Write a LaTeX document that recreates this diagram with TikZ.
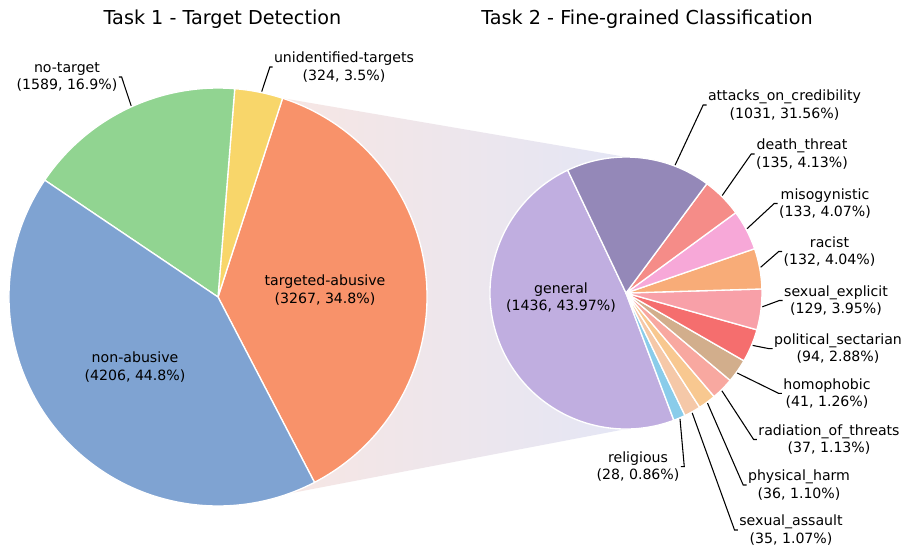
\documentclass[tikz,border=0pt]{standalone}
\usepackage{fontspec}
\setmainfont{DejaVu Sans}

\definecolor{cNonAbusive}{RGB}{127,163,210}
\definecolor{cNoTarget}{RGB}{145,212,145}
\definecolor{cUnident}{RGB}{248,214,106}
\definecolor{cTargeted}{RGB}{248,146,106}
\definecolor{cGeneral}{RGB}{192,174,224}
\definecolor{cAttacks}{RGB}{148,136,184}
\definecolor{cDeath}{RGB}{245,140,136}
\definecolor{cMisog}{RGB}{247,168,216}
\definecolor{cRacist}{RGB}{248,172,120}
\definecolor{cSexExpl}{RGB}{248,160,168}
\definecolor{cPolitical}{RGB}{245,110,110}
\definecolor{cHomophobic}{RGB}{210,174,140}
\definecolor{cRadiation}{RGB}{248,168,160}
\definecolor{cPhysical}{RGB}{248,200,144}
\definecolor{cSexAssault}{RGB}{245,200,168}
\definecolor{cReligious}{RGB}{138,204,234}
\definecolor{cBandL}{RGB}{250,230,224}
\definecolor{cBandR}{RGB}{228,230,245}

\tikzset{every picture/.style={line width=0.75pt}}
\tikzset{
  sector/.style={draw=white, line width=1pt, line join=round},
  leader/.style={draw=black, line width=0.8pt},
  lbl/.style={align=center, inner sep=0.75pt, font=\fontsize{10.6}{13}\selectfont},
  ttl/.style={inner sep=0.75pt, font=\fontsize{14.4}{17}\selectfont}
}

\begin{document}
\begin{tikzpicture}[x=0.75pt,y=0.75pt,yscale=-1,xscale=1]
\useasboundingbox (0,0) rectangle (904,547);
\fill[white] (0,0) rectangle (904,547);

%Shape: Band between the two pies
\shade[left color=cBandL, right color=cBandR] (282.6,98.2) -- (626,157) -- (626,429) -- (289.5,493.4) -- (218,297) -- cycle ;

%Shape: Sector targeted-abusive
\filldraw[sector, fill=cTargeted] (218,297) -- ++(62.5:209) arc (62.5:-72:209) -- cycle ;
%Shape: Sector unidentified-targets
\filldraw[sector, fill=cUnident] (218,297) -- ++(-72:209) arc (-72:-85.4:209) -- cycle ;
%Shape: Sector no-target
\filldraw[sector, fill=cNoTarget] (218,297) -- ++(-85.4:209) arc (-85.4:-146:209) -- cycle ;
%Shape: Sector non-abusive
\filldraw[sector, fill=cNonAbusive] (218,297) -- ++(-146:209) arc (-146:-297.5:209) -- cycle ;

%Shape: Sector general
\filldraw[sector, fill=cGeneral] (626,293) -- ++(-115.4:136) arc (-115.4:-290.6:136) -- cycle ;
%Shape: Sector religious
\filldraw[sector, fill=cReligious] (626,293) -- ++(69.4:136) arc (69.4:64.3:136) -- cycle ;
%Shape: Sector sexual_assault
\filldraw[sector, fill=cSexAssault] (626,293) -- ++(64.3:136) arc (64.3:57.2:136) -- cycle ;
%Shape: Sector physical_harm
\filldraw[sector, fill=cPhysical] (626,293) -- ++(57.2:136) arc (57.2:49.6:136) -- cycle ;
%Shape: Sector radiation_of_threats
\filldraw[sector, fill=cRadiation] (626,293) -- ++(49.6:136) arc (49.6:40:136) -- cycle ;
%Shape: Sector homophobic
\filldraw[sector, fill=cHomophobic] (626,293) -- ++(40:136) arc (40:29.9:136) -- cycle ;
%Shape: Sector political_sectarian
\filldraw[sector, fill=cPolitical] (626,293) -- ++(29.9:136) arc (29.9:15.7:136) -- cycle ;
%Shape: Sector sexual_explicit
\filldraw[sector, fill=cSexExpl] (626,293) -- ++(15.7:136) arc (15.7:-1.7:136) -- cycle ;
%Shape: Sector racist
\filldraw[sector, fill=cRacist] (626,293) -- ++(-1.7:136) arc (-1.7:-19:136) -- cycle ;
%Shape: Sector misogynistic
\filldraw[sector, fill=cMisog] (626,293) -- ++(-19:136) arc (-19:-36.2:136) -- cycle ;
%Shape: Sector death_threat
\filldraw[sector, fill=cDeath] (626,293) -- ++(-36.2:136) arc (-36.2:-53.5:136) -- cycle ;
%Shape: Sector attacks_on_credibility
\filldraw[sector, fill=cAttacks] (626,293) -- ++(-53.5:136) arc (-53.5:-115.4:136) -- cycle ;

% Leader start points on the rims
\coordinate (eNoTarget) at (131.2,105.8) ;
\coordinate (eUnident) at (261.7,91.6) ;
\coordinate (eAttacks) at (675.1,165.1) ;
\coordinate (eDeath) at (722.2,195.5) ;
\coordinate (eMisog) at (747,228.7) ;
\coordinate (eRacist) at (760.6,267.3) ;
\coordinate (eSexExpl) at (762.3,306.8) ;
\coordinate (ePolitical) at (752.6,345.4) ;
\coordinate (eHomophobic) at (737.2,373) ;
\coordinate (eRadiation) at (721.9,390.8) ;
\coordinate (ePhysical) at (707.5,403.1) ;
\coordinate (eSexAssault) at (692.2,412.9) ;
\coordinate (eReligious) at (680,418.9) ;

% Title Nodes
\node[ttl] (tTask1) at (222.5,19) {Task 1 - Target Detection};
\node[ttl] (tTask2) at (647,19) {Task 2 - Fine-grained Classification};

% Text Node
\node[lbl] (lNoTarget) at (67,77) {no-target\\(1589, 16.9\%)};
% Text Node
\node[lbl] (lUnident) at (344,67) {unidentified-targets\\(324, 3.5\%)};
% Text Node
\node[lbl] (lTargeted) at (325,290) {targeted-abusive\\(3267, 34.8\%)};
% Text Node
\node[lbl] (lNonAbusive) at (135,367) {non-abusive\\(4206, 44.8\%)};
% Text Node
\node[lbl] (lGeneral) at (561,297.5) {general\\(1436, 43.97\%)};
% Text Node
\node[lbl] (lAttacks) at (784.5,105) {attacks\_on\_credibility\\(1031, 31.56\%)};
% Text Node
\node[lbl] (lDeath) at (802,154) {death\_threat\\(135, 4.13\%)};
% Text Node
\node[lbl] (lMisog) at (825,203.5) {misogynistic\\(133, 4.07\%)};
% Text Node
\node[lbl] (lRacist) at (829.5,251.5) {racist\\(132, 4.04\%)};
% Text Node
\node[lbl] (lSexExpl) at (836,300.5) {sexual\_explicit\\(129, 3.95\%)};
% Text Node
\node[lbl] (lPolitical) at (838,348.7) {political\_sectarian\\(94, 2.88\%)};
% Text Node
\node[lbl] (lHomophobic) at (827,393.3) {homophobic\\(41, 1.26\%)};
% Text Node
\node[lbl] (lRadiation) at (829,439.5) {radiation\_of\_threats\\(37, 1.13\%)};
% Text Node
\node[lbl] (lPhysical) at (799,485) {physical\_harm\\(36, 1.10\%)};
% Text Node
\node[lbl] (lSexAssault) at (791,530) {sexual\_assault\\(35, 1.07\%)};
% Text Node
\node[lbl] (lReligious) at (638,466.7) {religious\\(28, 0.86\%)};

% Leader lines
\draw[leader] (eNoTarget) -- ([xshift=2pt]lNoTarget.east) -- (lNoTarget.east) ;
\draw[leader] (eUnident) -- ([xshift=-2pt]lUnident.west) -- (lUnident.west) ;
\draw[leader] (eAttacks) -- ([xshift=-2.5pt]lAttacks.west) -- (lAttacks.west) ;
\draw[leader] (eDeath) -- ([xshift=-2.5pt]lDeath.west) -- (lDeath.west) ;
\draw[leader] (eMisog) -- ([xshift=-2.5pt]lMisog.west) -- (lMisog.west) ;
\draw[leader] (eRacist) -- ([xshift=-2.5pt]lRacist.west) -- (lRacist.west) ;
\draw[leader] (eSexExpl) -- ([xshift=-2.5pt]lSexExpl.west) -- (lSexExpl.west) ;
\draw[leader] (ePolitical) -- ([xshift=-2.5pt]lPolitical.west) -- (lPolitical.west) ;
\draw[leader] (eHomophobic) -- ([xshift=-2.5pt]lHomophobic.west) -- (lHomophobic.west) ;
\draw[leader] (eRadiation) -- ([xshift=-2.5pt]lRadiation.west) -- (lRadiation.west) ;
\draw[leader] (ePhysical) -- ([xshift=-2.5pt]lPhysical.west) -- (lPhysical.west) ;
\draw[leader] (eSexAssault) -- ([xshift=-2.5pt]lSexAssault.west) -- (lSexAssault.west) ;
\draw[leader] (eReligious) -- ([xshift=2.5pt]lReligious.east) -- (lReligious.east) ;

\end{tikzpicture}
\end{document}
